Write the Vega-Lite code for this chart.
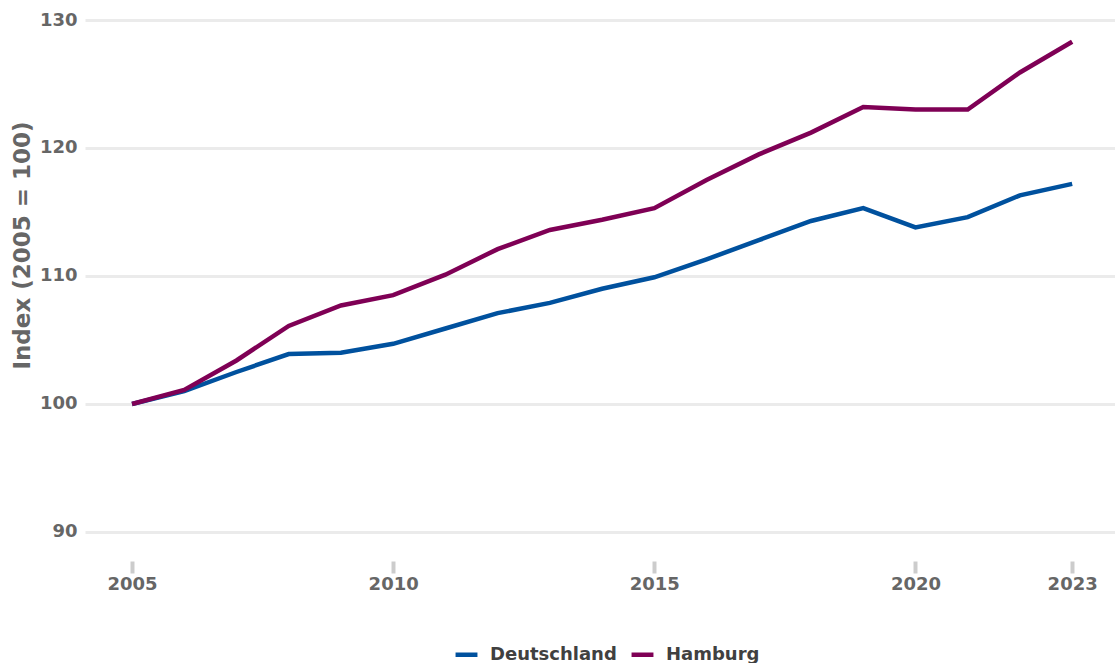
{
  "$schema": "https://vega.github.io/schema/vega-lite/v6.json",
  "width": 1030,
  "height": 541,
  "autosize": {"type": "none"},
  "padding": {"left": 85, "top": 20, "right": 0, "bottom": 102},
  "background": "white",
  "config": {
    "view": {"stroke": null},
    "font": "DejaVu Sans"
  },
  "data": {
    "values": [
      {"Jahr": 2005, "Region": "Deutschland", "Index": 100.0},
      {"Jahr": 2006, "Region": "Deutschland", "Index": 101.0},
      {"Jahr": 2007, "Region": "Deutschland", "Index": 102.5},
      {"Jahr": 2008, "Region": "Deutschland", "Index": 103.9},
      {"Jahr": 2009, "Region": "Deutschland", "Index": 104.0},
      {"Jahr": 2010, "Region": "Deutschland", "Index": 104.7},
      {"Jahr": 2011, "Region": "Deutschland", "Index": 105.9},
      {"Jahr": 2012, "Region": "Deutschland", "Index": 107.1},
      {"Jahr": 2013, "Region": "Deutschland", "Index": 107.9},
      {"Jahr": 2014, "Region": "Deutschland", "Index": 109.0},
      {"Jahr": 2015, "Region": "Deutschland", "Index": 109.9},
      {"Jahr": 2016, "Region": "Deutschland", "Index": 111.3},
      {"Jahr": 2017, "Region": "Deutschland", "Index": 112.8},
      {"Jahr": 2018, "Region": "Deutschland", "Index": 114.3},
      {"Jahr": 2019, "Region": "Deutschland", "Index": 115.3},
      {"Jahr": 2020, "Region": "Deutschland", "Index": 113.8},
      {"Jahr": 2021, "Region": "Deutschland", "Index": 114.6},
      {"Jahr": 2022, "Region": "Deutschland", "Index": 116.3},
      {"Jahr": 2023, "Region": "Deutschland", "Index": 117.2},
      {"Jahr": 2005, "Region": "Hamburg", "Index": 100.0},
      {"Jahr": 2006, "Region": "Hamburg", "Index": 101.1},
      {"Jahr": 2007, "Region": "Hamburg", "Index": 103.4},
      {"Jahr": 2008, "Region": "Hamburg", "Index": 106.1},
      {"Jahr": 2009, "Region": "Hamburg", "Index": 107.7},
      {"Jahr": 2010, "Region": "Hamburg", "Index": 108.5},
      {"Jahr": 2011, "Region": "Hamburg", "Index": 110.1},
      {"Jahr": 2012, "Region": "Hamburg", "Index": 112.1},
      {"Jahr": 2013, "Region": "Hamburg", "Index": 113.6},
      {"Jahr": 2014, "Region": "Hamburg", "Index": 114.4},
      {"Jahr": 2015, "Region": "Hamburg", "Index": 115.3},
      {"Jahr": 2016, "Region": "Hamburg", "Index": 117.5},
      {"Jahr": 2017, "Region": "Hamburg", "Index": 119.5},
      {"Jahr": 2018, "Region": "Hamburg", "Index": 121.2},
      {"Jahr": 2019, "Region": "Hamburg", "Index": 123.2},
      {"Jahr": 2020, "Region": "Hamburg", "Index": 123.0},
      {"Jahr": 2021, "Region": "Hamburg", "Index": 123.0},
      {"Jahr": 2022, "Region": "Hamburg", "Index": 125.9},
      {"Jahr": 2023, "Region": "Hamburg", "Index": 128.3}
    ]
  },
  "mark": {"type": "line", "strokeWidth": 4.5, "strokeCap": "butt", "strokeJoin": "miter"},
  "encoding": {
    "x": {
      "field": "Jahr",
      "type": "quantitative",
      "scale": {"domain": [2004.1, 2023.82], "nice": false, "zero": false},
      "axis": {
        "values": [2005, 2010, 2015, 2020, 2023],
        "format": "d",
        "title": null,
        "grid": false,
        "domain": false,
        "ticks": true,
        "tickColor": "#cccccc",
        "tickWidth": 4,
        "tickSize": 12,
        "labelPadding": 2,
        "labelFont": "DejaVu Sans",
        "labelFontSize": 18,
        "labelFontWeight": "bold",
        "labelColor": "#666666"
      }
    },
    "y": {
      "field": "Index",
      "type": "quantitative",
      "scale": {"domain": [87.734, 130], "nice": false, "zero": false},
      "axis": {
        "values": [90, 100, 110, 120, 130],
        "title": "Index (2005 = 100)",
        "titleFont": "DejaVu Sans",
        "titleFontSize": 23,
        "titleFontWeight": "bold",
        "titleColor": "#666666",
        "titlePadding": 5,
        "titleY": 225,
        "grid": true,
        "gridColor": "#ebebeb",
        "gridWidth": 3,
        "domain": false,
        "ticks": false,
        "labelPadding": 8,
        "labelFont": "DejaVu Sans",
        "labelFontSize": 18,
        "labelFontWeight": "bold",
        "labelColor": "#666666"
      }
    },
    "color": {
      "field": "Region",
      "type": "nominal",
      "scale": {"domain": ["Deutschland", "Hamburg"], "range": ["#00519e", "#7f0055"]},
      "legend": {
        "orient": "none",
        "legendX": 368,
        "legendY": 621,
        "direction": "horizontal",
        "title": null,
        "symbolType": "stroke",
        "symbolStrokeWidth": 4.5,
        "symbolSize": 480,
        "labelFont": "DejaVu Sans",
        "labelFontSize": 18,
        "labelFontWeight": "bold",
        "labelColor": "#404040",
        "columnPadding": 5,
        "labelOffset": 10
      }
    }
  }
}
